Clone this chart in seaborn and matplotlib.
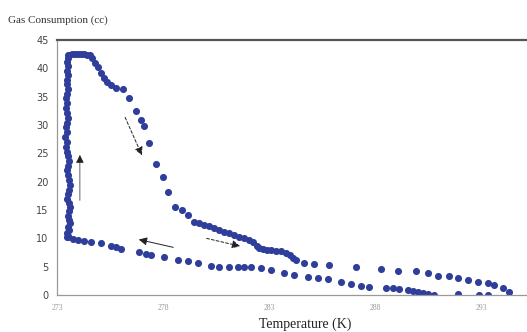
import matplotlib
matplotlib.use("Agg")
from matplotlib import pyplot as plt
import seaborn as sns
import pandas as pd

# formation at ~constant temperature (going up)
rise_T = [273.47, 273.52, 273.47, 273.57, 273.52, 273.61, 273.57, 273.52, 273.57, 273.61,
          273.57, 273.47, 273.52, 273.57, 273.61, 273.57, 273.52, 273.47, 273.52, 273.57,
          273.52, 273.47, 273.42, 273.47, 273.38, 273.47, 273.42, 273.47, 273.52, 273.47,
          273.42, 273.47, 273.42, 273.47, 273.52, 273.47, 273.47, 273.52, 273.47, 273.52,
          273.47, 273.52, 273.52]
rise_V = [10.2, 10.5, 10.9, 11.4, 12.0, 12.7, 13.3, 14.0, 14.8, 15.5,
          16.3, 17.0, 17.8, 18.6, 19.5, 20.3, 21.1, 22.0, 22.8, 23.7,
          24.5, 25.3, 26.2, 27.0, 27.9, 28.7, 29.6, 30.4, 31.3, 32.1,
          33.0, 33.8, 34.7, 35.5, 36.3, 37.2, 38.0, 38.8, 39.6, 40.4,
          41.2, 41.9, 42.3]

# flat top
top_T = [273.57, 273.71, 273.85, 273.99, 274.13, 274.27, 274.42, 274.56]
top_V = [42.4, 42.5, 42.5, 42.5, 42.5, 42.5, 42.4, 42.3]

# heating / dissociation branch
heat_T = [274.65, 274.79, 274.93, 275.08, 275.22, 275.36, 275.55, 275.78, 276.11, 276.40,
          276.73, 276.96, 277.10, 277.34, 277.67, 278.00, 278.24, 278.57, 278.90, 279.18,
          279.46, 279.70, 279.93, 280.17, 280.41, 280.64, 280.88, 281.11, 281.35, 281.58,
          281.82, 282.06, 282.25, 282.43, 282.53, 282.72, 282.91, 283.09, 283.33, 283.57,
          283.80, 283.99, 284.13, 284.27, 284.65, 285.12, 285.83, 287.10, 288.28, 289.08,
          289.93, 290.50, 290.97, 291.49, 291.92, 292.39, 292.86, 293.33, 293.61, 294.04,
          294.32]
heat_V = [41.8, 41.0, 40.2, 39.2, 38.3, 37.6, 37.0, 36.5, 36.3, 34.8,
          32.5, 30.9, 29.8, 26.8, 23.1, 20.8, 18.2, 15.5, 15.0, 14.1,
          12.9, 12.7, 12.4, 12.1, 11.8, 11.5, 11.2, 10.9, 10.6, 10.3,
          10.0, 9.7, 9.3, 8.6, 8.3, 8.1, 8.0, 7.9, 7.8, 7.7,
          7.4, 7.0, 6.5, 6.2, 5.6, 5.5, 5.3, 4.9, 4.6, 4.2,
          4.2, 3.9, 3.4, 3.4, 3.0, 2.6, 2.3, 2.1, 1.8, 1.2,
          0.5]

# cooling branch back to the left
cool_T = [293.33, 292.91, 291.92, 290.78, 290.50, 290.26, 290.03, 289.79, 289.56, 289.13,
          288.85, 288.52, 287.72, 287.34, 286.87, 286.40, 285.78, 285.31, 284.84, 284.18,
          283.71, 283.09, 282.62, 282.15, 281.82, 281.54, 281.11, 280.64, 280.26, 279.65,
          279.18, 278.71, 278.05, 277.43, 277.20, 276.87, 276.02, 275.78, 275.55, 275.08,
          274.60, 274.27, 273.99, 273.75, 273.52]
cool_V = [0.0, 0.0, 0.2, 0.0, 0.2, 0.3, 0.5, 0.7, 0.9, 1.1,
          1.2, 1.3, 1.4, 1.6, 1.9, 2.3, 2.8, 3.0, 3.2, 3.5,
          3.9, 4.4, 4.8, 4.9, 4.9, 4.9, 4.9, 5.0, 5.1, 5.6,
          6.0, 6.2, 6.7, 7.1, 7.3, 7.6, 8.1, 8.4, 8.6, 9.2,
          9.4, 9.6, 9.7, 9.9, 10.2]

x_ticks = [273, 278, 283, 288, 293]
y_ticks = [0, 5, 10, 15, 20, 25, 30, 35, 40, 45]

df = pd.DataFrame({
    "T": rise_T + top_T + heat_T + cool_T,
    "V": rise_V + top_V + heat_V + cool_V,
})

sns.set_style("white")
fig = plt.figure(figsize=(5.27, 3.32), dpi=100)
ax = fig.add_axes([57 / 527, 37 / 332, 470 / 527, 255 / 332])

sns.scatterplot(data=df, x="T", y="V", ax=ax, s=26, color="#2f3d9b",
                linewidth=0, legend=False)

ax.set_xlim(273, 273 + 470 / 21.2)
ax.set_ylim(0, 45)
ax.set_xticks(x_ticks)
ax.set_yticks(y_ticks)
ax.set_xticklabels([str(t) for t in x_ticks], fontsize=5.5, color="#999999",
                   family="Liberation Serif")
ax.set_yticklabels([str(t) for t in y_ticks], fontsize=7, color="#444444")
ax.tick_params(axis="y", direction="out", length=3, width=0.6, color="#999999", pad=3)
ax.tick_params(axis="x", direction="inout", length=5, width=0.6, color="#999999", pad=4)
ax.set_xlabel("")
ax.set_ylabel("")

for side in ["left", "bottom"]:
    ax.spines[side].set_color("#999999")
    ax.spines[side].set_linewidth(0.9)
ax.spines["top"].set_color("#555555")
ax.spines["top"].set_linewidth(1.6)
ax.spines["right"].set_visible(False)

# arrows showing the direction of the loop
dashed = dict(arrowstyle="-|>", color="#222222", lw=0.7, linestyle=(0, (3, 2)),
              mutation_scale=12)
solid = dict(arrowstyle="-|>", color="#222222", lw=0.7, mutation_scale=12)
ax.annotate("", xy=(277.06, 24.2), xytext=(276.16, 31.8), arrowprops=dashed)
ax.annotate("", xy=(281.77, 8.5), xytext=(279.93, 10.1), arrowprops=dashed)
ax.annotate("", xy=(276.73, 9.9), xytext=(278.61, 8.3), arrowprops=solid)
ax.annotate("", xy=(274.08, 25.2), xytext=(274.08, 16.2),
            arrowprops=dict(arrowstyle="-|>", color="#222222", lw=0.5,
                            mutation_scale=12))

fig.text(0.015, 0.93, "Gas Consumption (cc)", fontsize=8, color="#333333",
         family="Liberation Serif")
fig.text(0.58, 0.012, "Temperature (K)", fontsize=10, color="#222222",
         family="Liberation Serif", ha="center")

fig.savefig("out.png", dpi=100)
